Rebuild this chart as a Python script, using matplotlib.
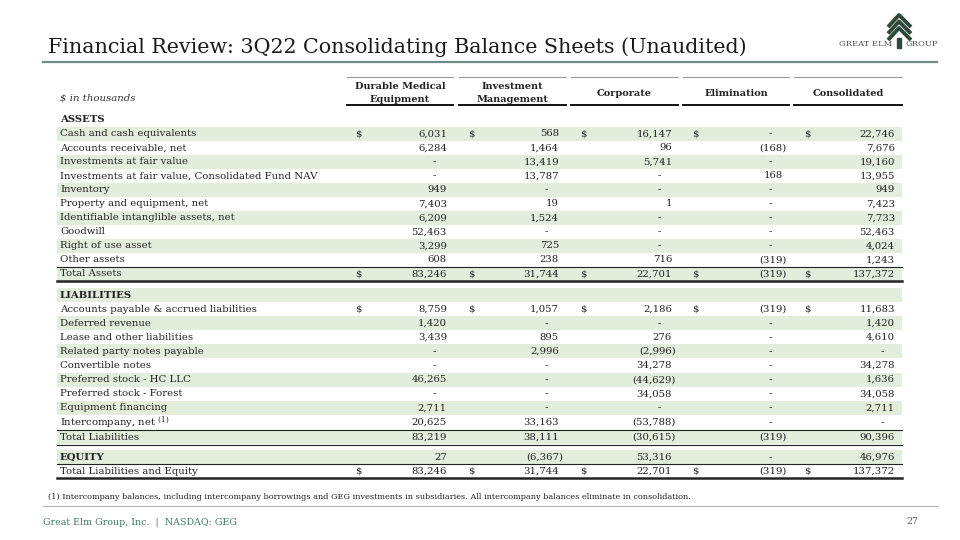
import numpy as np
import matplotlib
matplotlib.use("Agg")
import matplotlib.pyplot as plt
from matplotlib.patches import Rectangle

plt.rcParams['font.family'] = ['DejaVu Serif']
plt.rcParams['mathtext.fontset'] = 'dejavuserif'

# balance sheet data ($ in thousands), None = "-", "" rows = section headers
row_labels = ["ASSETS",
              "Cash and cash equivalents", "Accounts receivable, net", "Investments at fair value",
              "Investments at fair value, Consolidated Fund NAV", "Inventory", "Property and equipment, net",
              "Identifiable intanglible assets, net", "Goodwill", "Right of use asset", "Other assets",
              "Total Assets",
              "LIABILITIES",
              "Accounts payable & accrued liabilities", "Deferred revenue", "Lease and other liabilities",
              "Related party notes payable", "Convertible notes", "Preferred stock - HC LLC",
              "Preferred stock - Forest", "Equipment financing", "Intercompany, net $^{(1)}$",
              "Total Liabilities",
              "EQUITY", "Total Liabilities and Equity"]

columns = ["Durable Medical\nEquipment", "Investment\nManagement", "Corporate", "Elimination", "Consolidated"]

dme = ["", 6031, 6284, None, None, 949, 7403, 6209, 52463, 3299, 608, 83246,
       "", 8759, 1420, 3439, None, None, 46265, None, 2711, 20625, 83219, 27, 83246]
invest_mgmt = ["", 568, 1464, 13419, 13787, None, 19, 1524, None, 725, 238, 31744,
               "", 1057, None, 895, 2996, None, None, None, None, 33163, 38111, -6367, 31744]
corporate = ["", 16147, 96, 5741, None, None, 1, None, None, None, 716, 22701,
             "", 2186, None, 276, -2996, 34278, -44629, 34058, None, -53788, -30615, 53316, 22701]
elimination = ["", None, -168, None, 168, None, None, None, None, None, -319, -319,
               "", -319, None, None, None, None, None, None, None, None, -319, None, -319]
consolidated = ["", 22746, 7676, 19160, 13955, 949, 7423, 7733, 52463, 4024, 1243, 137372,
                "", 11683, 1420, 4610, None, 34278, 1636, 34058, 2711, None, 90396, 46976, 137372]

bold_rows = ["ASSETS", "LIABILITIES", "EQUITY"]
dollar_rows = ["Cash and cash equivalents", "Total Assets",
               "Accounts payable & accrued liabilities", "Total Liabilities and Equity"]

# layout (pixels)
row_y = [120 + 14.0 * i for i in range(12)]
row_y += [295 + 14.1 * i for i in range(9)]
row_y += [422.5, 437.3, 457.3, 471.3]
shaded = [False, True, False, True, False, True, False, True, False, True, False, True,
          True, False, True, False, True, False, True, False, True, False, True, True, False]
col_left = [347, 459, 571, 683, 794]
col_right = [453, 566, 678, 789, 902]
num_right = [447, 559, 672, 783, 895]
dollar_x = [355, 468, 580, 692, 804]

GREEN_BG = '#e2eedb'
FS = 7.3

fig = plt.figure(figsize=(9.6, 5.4), dpi=100)
ax = fig.add_axes([0, 0, 1, 1])
ax.set_xlim(0, 960)
ax.set_ylim(540, 0)
ax.axis('off')

# title and header rule
ax.text(48, 53, "Financial Review: 3Q22 Consolidating Balance Sheets (Unaudited)",
        fontsize=14.9, va='baseline', ha='left', color='#1a1a1a')
ax.plot([43, 937], [62, 62], color='#6d8c86', lw=1.6)

# logo
tree = '#2f4a3b'
for dy in [0, 6.5, 13]:
    ax.plot([888, 899, 911], [27 + dy, 15 + dy, 27 + dy], color=tree, lw=2.8, solid_capstyle='butt')
ax.add_patch(Rectangle((897, 38), 4, 10, color=tree))
ax.text(892, 44, "GREAT ELM", fontsize=6, ha='right', va='center', color='#555555')
ax.text(905, 44, "GROUP", fontsize=6, ha='left', va='center', color='#555555')

# column headers
for i, name in enumerate(columns):
    cx = (col_left[i] + col_right[i]) / 2
    ax.plot([col_left[i], col_right[i]], [77, 77], color='#9a9a9a', lw=0.8)
    ax.plot([col_left[i], col_right[i]], [105, 105], color='#111111', lw=1.4)
    ax.text(cx, 93, name, fontsize=7, fontweight='bold', ha='center', va='center',
            linespacing=1.6, color='#222222')
ax.text(60, 98, "$ in thousands", fontsize=FS, style='italic', va='center', color='#333333')

# row shading
for y, s in zip(row_y, shaded):
    if s:
        ax.add_patch(Rectangle((57, y - 7), 902 - 57, 14, color=GREEN_BG, lw=0))


def fmt(v):
    return f"{abs(v):,}"


values = [dme, invest_mgmt, corporate, elimination, consolidated]
for r, label in enumerate(row_labels):
    y = row_y[r]
    weight = 'bold' if label in bold_rows else 'normal'
    ax.text(60, y, label, fontsize=FS, fontweight=weight, va='center', ha='left', color='#222222')
    for c in range(5):
        v = values[c][r]
        if isinstance(v, str):
            continue
        if label in dollar_rows:
            ax.text(dollar_x[c], y, "$", fontsize=FS, va='center', ha='left', color='#222222')
        if v is None:
            ax.text(num_right[c] - 13, y, "-", fontsize=FS, va='center', ha='center', color='#222222')
        elif v < 0:
            ax.text(num_right[c] + 4, y, f"({fmt(v)})", fontsize=FS, va='center', ha='right', color='#222222')
        else:
            ax.text(num_right[c], y, fmt(v), fontsize=FS, va='center', ha='right', color='#222222')

# total rules
ax.plot([57, 902], [267, 267], color='#222222', lw=0.8)
ax.plot([57, 902], [281, 281], color='#222222', lw=1.8)
ax.plot([57, 902], [430, 430], color='#222222', lw=0.8)
ax.plot([57, 902], [444.5, 444.5], color='#222222', lw=0.8)
ax.plot([57, 902], [464, 464], color='#222222', lw=0.8)
ax.plot([57, 902], [478, 478], color='#222222', lw=1.8)

# footnote and footer
ax.text(48, 497, "(1) Intercompany balances, including intercompany borrowings and GEG investments in subsidiaries. "
        "All intercompany balances eliminate in consolidation.", fontsize=5.9, va='center', color='#222222')
ax.plot([43, 937], [506, 506], color='#aaaaaa', lw=0.7)
ax.text(43, 522, "Great Elm Group, Inc.  |  NASDAQ: GEG", fontsize=6.8, va='center', color='#3f7a63')
ax.text(918, 522, "27", fontsize=6.8, va='center', ha='right', color='#555555')

fig.savefig("out.png", dpi=100)
